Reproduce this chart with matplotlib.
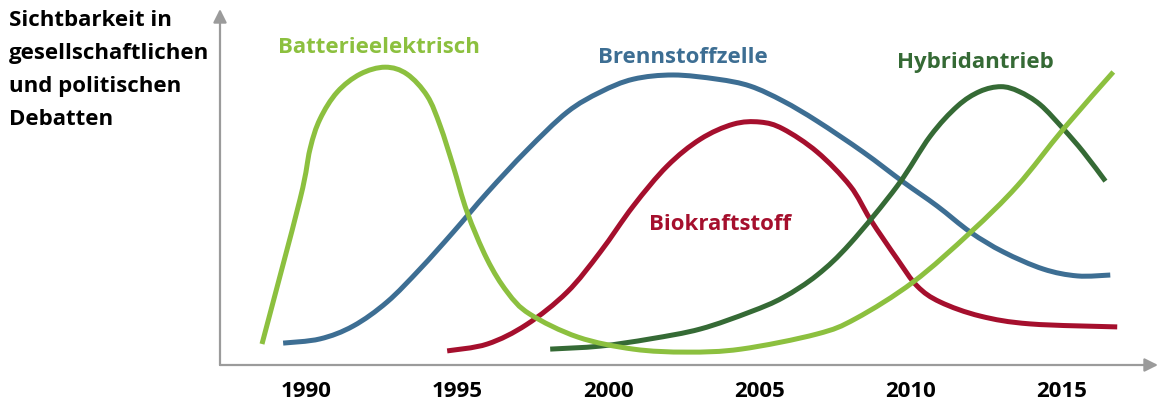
import numpy as np
import matplotlib.pyplot as plt
from matplotlib.path import Path
from matplotlib.patches import PathPatch

# -- Kurvendaten (Jahr, Sichtbarkeit) --
batt_x = [1988.54, 1989.80, 1990.13, 1990.46, 1991.03, 1991.79, 1992.62, 1993.34, 1994.01,
          1994.44, 1994.87, 1995.33, 1995.99, 1996.66, 1997.4, 1999.0, 2000.83, 2002.6,
          2004.4, 2006.9, 2008.2, 2010.1, 2012.0, 2013.54, 2015.07, 2016.72]
batt_y = [7.0, 55.3, 72.0, 82.0, 91.0, 97.0, 99.3, 97.0, 89.7,
          79.7, 66.3, 51.0, 35.3, 24.3, 17.0, 9.3, 5.3, 4.3,
          5.3, 10.3, 15.5, 27.7, 44.3, 59.7, 78.7, 97.7]

bz_x = [1989.24, 1990.46, 1991.56, 1992.68, 1993.77, 1994.87, 1996.0, 1997.3, 1998.64,
        1999.74, 2000.83, 2002.15, 2003.61, 2004.70, 2005.79, 2006.92, 2008.44, 2009.77,
        2010.89, 2011.99, 2013.08, 2014.40, 2015.53, 2016.62]
bz_y = [7.3, 8.7, 13.0, 21.0, 32.0, 44.3, 57.5, 71.5, 84.3,
        91.0, 95.3, 96.7, 95.3, 93.0, 88.0, 81.3, 71.0, 61.0,
        53.0, 44.3, 37.7, 32.0, 29.7, 30.0]

bio_x = [1994.67, 1996.0, 1997.3, 1998.64, 1999.74, 2000.83, 2001.95, 2003.05, 2004.14,
         2005.03, 2005.79, 2006.92, 2008.01, 2008.68, 2009.57, 2010.23, 2010.99, 2012.32,
         2013.97, 2016.85]
bio_y = [4.7, 7.0, 13.5, 24.3, 37.7, 53.0, 66.3, 75.3, 80.3,
         81.0, 78.7, 71.0, 59.7, 48.5, 35.3, 26.3, 21.0, 16.3,
         13.7, 12.7]

hyb_x = [1998.08, 1999.74, 2001.39, 2003.05, 2004.70, 2005.79, 2006.92, 2008.01, 2009.57,
         2010.66, 2011.56, 2012.3, 2013.0, 2013.6, 2014.3, 2015.07, 2015.73, 2016.46]
hyb_y = [5.3, 6.3, 8.7, 12.0, 17.7, 22.5, 30.0, 40.5, 59.7,
         76.3, 86.3, 91.2, 92.8, 91.2, 86.8, 78.7, 71.0, 61.3]

years = [1990, 1995, 2000, 2005, 2010, 2015]

c_batt = '#8cc03f'
c_bz = '#3d6e93'
c_bio = '#a50f2d'
c_hyb = '#356a35'
c_axis = '#9b9b9b'

plt.rcParams['font.family'] = ['Open Sans', 'DejaVu Sans']


def smooth_path(xs, ys):
    # bezier segments with catmull-rom tangents
    p = np.column_stack([xs, ys])
    n = len(p)
    verts = [p[0]]
    codes = [Path.MOVETO]
    for i in range(n - 1):
        p0 = p[i - 1] if i > 0 else p[i]
        p3 = p[i + 2] if i + 2 < n else p[i + 1]
        c1 = p[i] + (p[i + 1] - p0) / 6
        c2 = p[i + 1] - (p3 - p[i]) / 6
        verts += [c1, c2, p[i + 1]]
        codes += [Path.CURVE4] * 3
    return Path(verts, codes)


fig = plt.figure(figsize=(11.63, 4.06), dpi=100)
ax = fig.add_axes([220 / 1163, 1 - 366 / 406, 938 / 1163, 356 / 406])
ax.set_xlim(1987.15, 2018.2)
ax.set_ylim(0, 118.7)

for xs, ys, col in [(bz_x, bz_y, c_bz), (bio_x, bio_y, c_bio),
                    (hyb_x, hyb_y, c_hyb), (batt_x, batt_y, c_batt)]:
    ax.add_patch(PathPatch(smooth_path(xs, ys), fill=False, edgecolor=col,
                           lw=3.6, capstyle='butt'))

# -- Achsen mit Pfeilspitzen --
for s in ax.spines.values():
    s.set_visible(False)
arrow = dict(arrowstyle='-|>,head_length=0.8,head_width=0.4', color=c_axis, lw=1.6,
             shrinkA=0, shrinkB=0)
ax.annotate('', xy=(1, 0), xytext=(0, 0), xycoords='axes fraction', arrowprops=arrow)
ax.annotate('', xy=(0, 1), xytext=(0, 0), xycoords='axes fraction', arrowprops=arrow)

ax.set_xticks(years)
ax.set_xticklabels([str(y) for y in years], fontsize=16, fontweight='bold')
ax.tick_params(axis='x', length=0, pad=11)
ax.set_yticks([])

# -- Beschriftungen --
fig.text(9 / 1163, 1 - 10 / 406, 'Sichtbarkeit in\ngesellschaftlichen\nund politischen\nDebatten',
         ha='left', va='top', fontsize=16, fontweight='bold', linespacing=1.74)
lbl = dict(fontsize=16, fontweight='bold', ha='center', va='baseline')
ax.text(1992.4, 104.3, 'Batterieelektrisch', color=c_batt, **lbl)
ax.text(2002.48, 101.0, 'Brennstoffzelle', color=c_bz, **lbl)
ax.text(2012.15, 99.3, 'Hybridantrieb', color=c_hyb, **lbl)
ax.text(2003.71, 45.3, 'Biokraftstoff', color=c_bio, **lbl)

fig.savefig('out.png', dpi=100)
